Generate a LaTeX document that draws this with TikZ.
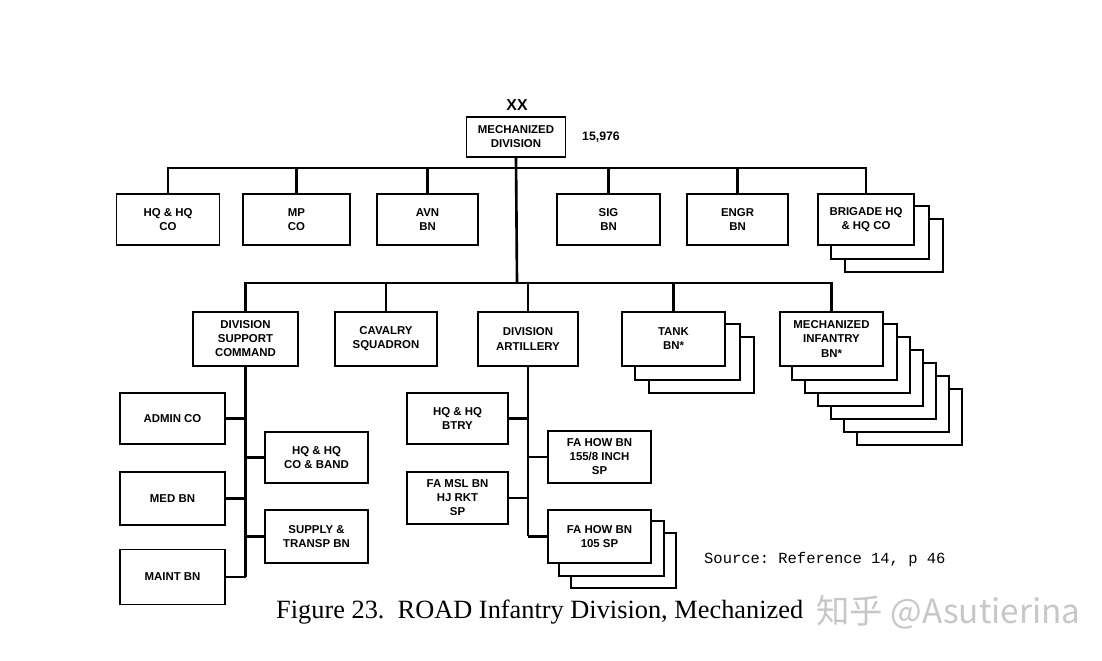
\documentclass[tikz,border=0pt]{standalone}
\usepackage{fontspec}
\setmainfont{Liberation Serif}
\setsansfont{Liberation Sans}
\setmonofont{Liberation Mono}
\newfontfamily\cjkfont{Noto Sans CJK SC}
\usetikzlibrary{backgrounds}

\tikzset{
  unit/.style 2 args={draw, line width=1.1pt, fill=white, align=center, inner sep=0pt,
    minimum width=#1*0.02cm, minimum height=#2*0.02cm,
    font=\sffamily\bfseries\fontsize{6.5}{8}\selectfont},
  link/.style={line width=1.5pt},
  copybox/.style={draw, line width=1.1pt, fill=white},
}

\begin{document}
\begin{tikzpicture}[x=0.02cm, y=-0.02cm]
  \useasboundingbox (0,0) rectangle (1102,661);

  % Division
  \node[font=\sffamily\bfseries\fontsize{9}{10}\selectfont] (xx) at (517,105) {XX};
  \node[unit={99}{40}] (div) at (516,137) {MECHANIZED\\DIVISION};
  \node[font=\sffamily\bfseries\fontsize{7}{8}\selectfont, anchor=west] (str) at (576,137) {15,976};

  % First row
  \node[unit={103}{51}] (hqco) at (168,219.5) {HQ \& HQ\\CO};
  \node[unit={107}{51}] (mpco) at (296.5,219.5) {MP\\CO};
  \node[unit={101}{51}] (avn) at (427.5,219.5) {AVN\\BN};
  \node[unit={103}{51}] (sig) at (608.5,219.5) {SIG\\BN};
  \node[unit={101}{51}] (engr) at (737.5,219.5) {ENGR\\BN};
  \node[unit={96}{51}] (bde) at (866,219.5) {BRIGADE HQ\\\& HQ CO};

  % Second row
  \node[unit={105}{54}] (dsc) at (245.5,339) {DIVISION\\SUPPORT\\COMMAND};
  \node[unit={102}{54}] (cav) at (386,339) {CAVALRY\\SQUADRON};
  \node[unit={100}{54}] (arty) at (528,339) {DIVISION\\ARTILLERY};
  \node[unit={103}{54}] (tank) at (673.5,339) {TANK\\BN*};
  \node[unit={103}{54}] (mech) at (831.5,339) {MECHANIZED\\INFANTRY\\BN*};

  % Support command units
  \node[unit={105}{51}] (admin) at (172.5,418.5) {ADMIN CO};
  \node[unit={105}{53}] (med) at (172.5,498.5) {MED BN};
  \node[unit={105}{55}] (maint) at (172.5,577) {MAINT BN};
  \node[unit={103}{51}] (band) at (316.5,457.5) {HQ \& HQ\\CO \& BAND};
  \node[unit={103}{53}] (supply) at (316.5,536.5) {SUPPLY \&\\TRANSP BN};

  % Artillery units
  \node[unit={101}{51}] (btry) at (457.5,418.5) {HQ \& HQ\\BTRY};
  \node[unit={101}{52}] (msl) at (457.5,498) {FA MSL BN\\HJ RKT\\SP};
  \node[unit={103}{52}] (how155) at (599.5,457) {FA HOW BN\\155/8 INCH\\SP};
  \node[unit={103}{53}] (how105) at (599.5,536.5) {FA HOW BN\\105 SP};

  % Stacked copies
  \begin{scope}[on background layer]
    \foreach \k in {2,1}
      \draw[copybox] ([shift={(14*\k,13*\k)}]bde.south west) rectangle ([shift={(14*\k,13*\k)}]bde.north east);
    \foreach \k in {2,1}
      \draw[copybox] ([shift={(14*\k,13*\k)}]tank.south west) rectangle ([shift={(14*\k,13*\k)}]tank.north east);
    \foreach \k in {6,...,1}
      \draw[copybox] ([shift={(13*\k,13*\k)}]mech.south west) rectangle ([shift={(13*\k,13*\k)}]mech.north east);
    \foreach \k in {2,1}
      \draw[copybox] ([shift={(12*\k,12*\k)}]how105.south west) rectangle ([shift={(12*\k,12*\k)}]how105.north east);
  \end{scope}

  % Connectors
  \coordinate (bus1) at (517,168);
  \coordinate (bus2) at (517,283);
  \draw[link] (div.south) -- (bus2);
  \draw[link] (hqco.north) |- (bus1) -| (bde.north);
  \foreach \n in {mpco,avn,sig,engr}
    \draw[link] (\n.north) -- (\n.north |- bus1);
  \draw[link] (dsc.north) |- (bus2) -| (mech.north);
  \foreach \n in {cav,arty,tank}
    \draw[link] (\n.north) -- (\n.north |- bus2);

  \draw[link] (dsc.south) -- (dsc.south |- maint.east);
  \foreach \n in {admin,med,maint}
    \draw[link] (\n.east) -- (\n.east -| dsc.south);
  \foreach \n in {band,supply}
    \draw[link] (\n.west) -- (\n.west -| dsc.south);

  \draw[link] (arty.south) -- (arty.south |- how105.west);
  \foreach \n in {btry,msl}
    \draw[link] (\n.east) -- (\n.east -| arty.south);
  \foreach \n in {how155,how105}
    \draw[link] (\n.west) -- (\n.west -| arty.south);

  % Source and caption
  \node[font=\ttfamily\fontsize{8.8}{10}\selectfont, anchor=west] (src) at (698,560) {Source: Reference 14, p 46};
  \node[font=\fontsize{15}{17}\selectfont, anchor=west] (cap) at (270,612) {Figure 23.\ \ ROAD Infantry Division, Mechanized};
  \node[text=black!22, font=\cjkfont\fontsize{19}{22}\selectfont, anchor=west] (wm) at (810,612) {知乎 @Asutierina};
\end{tikzpicture}
\end{document}
